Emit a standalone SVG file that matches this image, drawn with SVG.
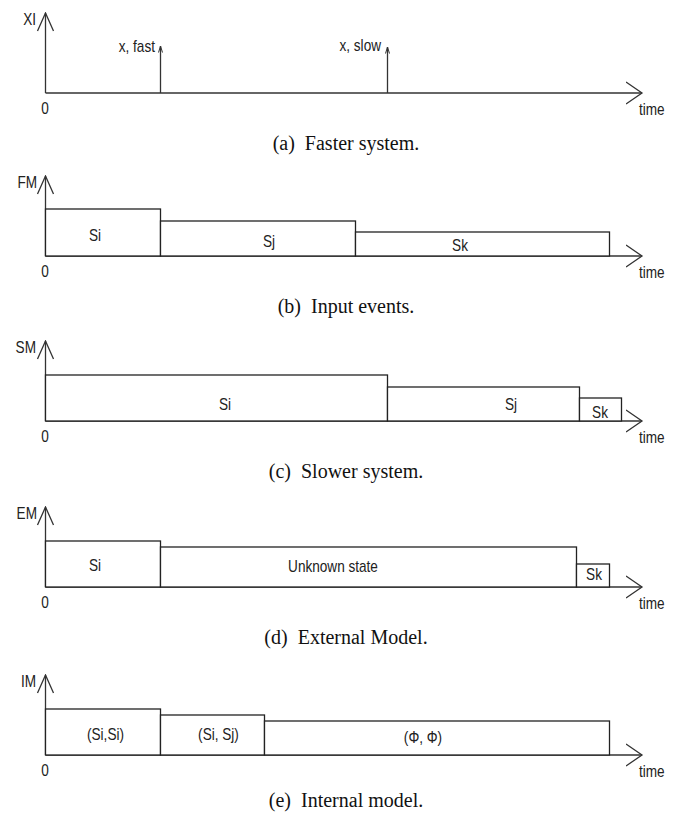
<svg xmlns="http://www.w3.org/2000/svg" width="688" height="815" viewBox="0 0 688 815">
<style>
.ax{stroke:#333;stroke-width:1.3;fill:none}
.box{stroke:#222;stroke-width:1.3;fill:#fff}
.lbl{font-family:"Liberation Sans",Arial,sans-serif;font-size:16px;fill:#222}
.mid{text-anchor:middle}
.end{text-anchor:end}
.cap{font-family:"Liberation Serif","Times New Roman",serif;font-size:20px;fill:#111;text-anchor:middle;white-space:pre}
</style>
<defs>
<marker id="ya" markerUnits="userSpaceOnUse" viewBox="0 0 20 20" markerWidth="20" markerHeight="20" refX="18.5" refY="10" orient="auto">
<path d="M0.5,2 L18.5,10 L0.5,18" fill="none" stroke="#333" stroke-width="1.3"/>
</marker>
<marker id="ta" markerUnits="userSpaceOnUse" viewBox="0 0 18 24" markerWidth="18" markerHeight="24" refX="16.5" refY="12" orient="auto">
<path d="M0.5,1 L16.5,12 L0.5,23" fill="none" stroke="#333" stroke-width="1.3"/>
</marker>
<marker id="ea" markerUnits="userSpaceOnUse" viewBox="0 0 8 6" markerWidth="8" markerHeight="6" refX="7" refY="3" orient="auto">
<path d="M0.5,1 L7,3 L0.5,5" fill="none" stroke="#333" stroke-width="1"/>
</marker>
</defs>
<rect width="688" height="815" fill="#fff"/>

<g id="connectors">
<!-- (a) -->
<line class="ax" x1="45.5" y1="93" x2="45.5" y2="13" marker-end="url(#ya)"/>
<line class="ax" x1="45.5" y1="93" x2="642" y2="93" marker-end="url(#ta)"/>
<line class="ax" x1="160.5" y1="93" x2="160.5" y2="46" marker-end="url(#ea)"/>
<line class="ax" x1="387.5" y1="93" x2="387.5" y2="47" marker-end="url(#ea)"/>
<!-- (b) -->
<line class="ax" x1="45.5" y1="256" x2="45.5" y2="176" marker-end="url(#ya)"/>
<line class="ax" x1="45.5" y1="256" x2="642" y2="256" marker-end="url(#ta)"/>
<!-- (c) -->
<line class="ax" x1="45.5" y1="421" x2="45.5" y2="341" marker-end="url(#ya)"/>
<line class="ax" x1="45.5" y1="421" x2="642" y2="421" marker-end="url(#ta)"/>
<!-- (d) -->
<line class="ax" x1="45.5" y1="587" x2="45.5" y2="507" marker-end="url(#ya)"/>
<line class="ax" x1="45.5" y1="587" x2="642" y2="587" marker-end="url(#ta)"/>
<!-- (e) -->
<line class="ax" x1="45.5" y1="755" x2="45.5" y2="675" marker-end="url(#ya)"/>
<line class="ax" x1="45.5" y1="755" x2="642" y2="755" marker-end="url(#ta)"/>
</g>

<g id="panel-a">
<text class="lbl end" transform="translate(36 25) scale(0.85 1)">XI</text>
<text class="lbl end" transform="translate(155 52) scale(0.85 1)">x, fast</text>
<text class="lbl end" transform="translate(381 51) scale(0.85 1)">x, slow</text>
<text class="lbl mid" transform="translate(45 114) scale(0.85 1)">0</text>
<text class="lbl" transform="translate(639 115) scale(0.85 1)">time</text>
<text class="cap" x="346" y="150" xml:space="preserve">(a)  Faster system.</text>
</g>

<g id="panel-b">
<text class="lbl end" transform="translate(37 188) scale(0.85 1)">FM</text>
<g id="b-si"><rect class="box" x="45.5" y="209" width="115" height="47"/><text class="lbl mid" transform="translate(95 241) scale(0.85 1)">Si</text></g>
<g id="b-sj"><rect class="box" x="160.5" y="221" width="195" height="35"/><text class="lbl mid" transform="translate(269 247) scale(0.85 1)">Sj</text></g>
<g id="b-sk"><rect class="box" x="355.5" y="232" width="254" height="24"/><text class="lbl mid" transform="translate(460 251) scale(0.85 1)">Sk</text></g>
<text class="lbl mid" transform="translate(45 277) scale(0.85 1)">0</text>
<text class="lbl" transform="translate(639 278) scale(0.85 1)">time</text>
<text class="cap" x="346" y="313" xml:space="preserve">(b)  Input events.</text>
</g>

<g id="panel-c">
<text class="lbl end" transform="translate(36 353) scale(0.85 1)">SM</text>
<g id="c-si"><rect class="box" x="45.5" y="375" width="342" height="46"/><text class="lbl mid" transform="translate(225 410) scale(0.85 1)">Si</text></g>
<g id="c-sj"><rect class="box" x="387.5" y="387" width="192" height="34"/><text class="lbl mid" transform="translate(511 410) scale(0.85 1)">Sj</text></g>
<g id="c-sk"><rect class="box" x="579.5" y="398" width="42" height="23"/><text class="lbl mid" transform="translate(600 418) scale(0.85 1)">Sk</text></g>
<text class="lbl mid" transform="translate(45 442) scale(0.85 1)">0</text>
<text class="lbl" transform="translate(639 443) scale(0.85 1)">time</text>
<text class="cap" x="346" y="478" xml:space="preserve">(c)  Slower system.</text>
</g>

<g id="panel-d">
<text class="lbl end" transform="translate(37 519) scale(0.85 1)">EM</text>
<g id="d-si"><rect class="box" x="45.5" y="541" width="115" height="46"/><text class="lbl mid" transform="translate(95 571) scale(0.85 1)">Si</text></g>
<g id="d-unknown"><rect class="box" x="160.5" y="547" width="416" height="40"/><text class="lbl mid" transform="translate(333 572) scale(0.85 1)">Unknown state</text></g>
<g id="d-sk"><rect class="box" x="576.5" y="564" width="33" height="23"/><text class="lbl mid" transform="translate(594 580) scale(0.85 1)">Sk</text></g>
<text class="lbl mid" transform="translate(45 608) scale(0.85 1)">0</text>
<text class="lbl" transform="translate(639 609) scale(0.85 1)">time</text>
<text class="cap" x="346" y="644" xml:space="preserve">(d)  External Model.</text>
</g>

<g id="panel-e">
<text class="lbl end" transform="translate(36 687) scale(0.85 1)">IM</text>
<g id="e-sisi"><rect class="box" x="45.5" y="709" width="115" height="46"/><text class="lbl mid" transform="translate(105.5 740) scale(0.85 1)">(Si,Si)</text></g>
<g id="e-sisj"><rect class="box" x="160.5" y="715" width="104" height="40"/><text class="lbl mid" transform="translate(218.5 740) scale(0.85 1)">(Si, Sj)</text></g>
<g id="e-phi"><rect class="box" x="264.5" y="721" width="345" height="34"/><text class="lbl mid" transform="translate(423 743) scale(0.85 1)">(Φ, Φ)</text></g>
<text class="lbl mid" transform="translate(45 776) scale(0.85 1)">0</text>
<text class="lbl" transform="translate(639 777) scale(0.85 1)">time</text>
<text class="cap" x="346" y="807" xml:space="preserve">(e)  Internal model.</text>
</g>
</svg>
